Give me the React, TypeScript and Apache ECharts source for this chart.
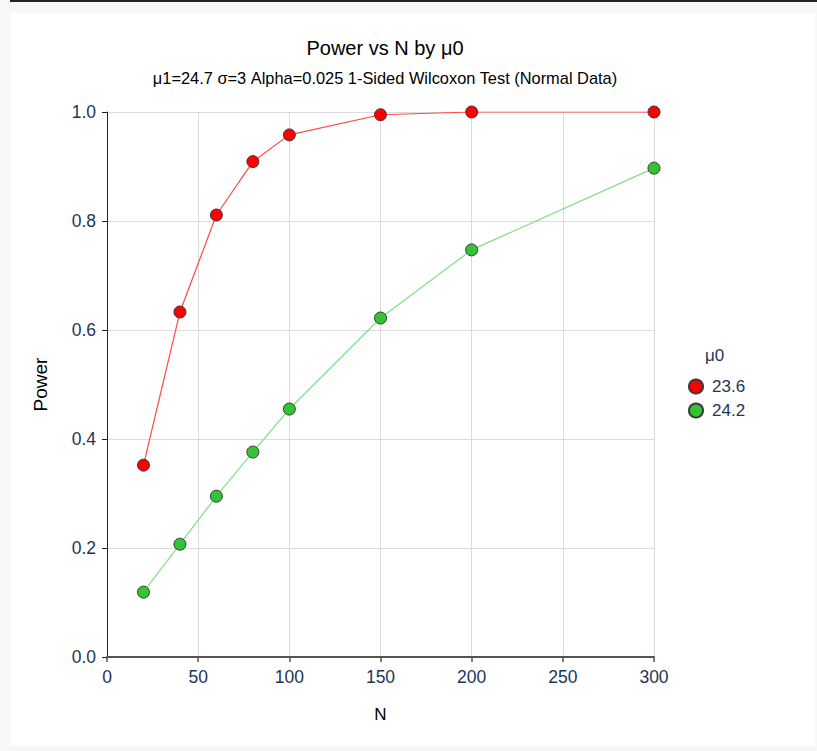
import React, { useEffect, useRef } from "react";
import * as echarts from "echarts";

const nValues = [20, 40, 60, 80, 100, 150, 200, 300];
const power236 = [0.352, 0.633, 0.811, 0.909, 0.958, 0.995, 1.0, 1.0];
const power242 = [0.119, 0.207, 0.295, 0.376, 0.455, 0.622, 0.747, 0.897];
const seriesNames = ["23.6", "24.2"];
const chartTitle = "Power vs N by μ0";
const chartSubtitle = "μ1=24.7 σ=3 Alpha=0.025 1-Sided Wilcoxon Test (Normal Data)";
const legendTitle = "μ0";

const FONT = "'Liberation Sans', Arial, sans-serif";

export default function App() {
  const ref = useRef<HTMLDivElement>(null);
  useEffect(() => {
    document.body.style.margin = "0";
    const chart = echarts.init(ref.current!, undefined, { renderer: "svg" });
    const mk = (name: string, vals: number[], fill: string, line: string) => ({
      name,
      type: "line",
      data: nValues.map((n, i) => [n, vals[i]]),
      symbol: "circle",
      symbolSize: 12,
      itemStyle: { color: fill, borderColor: "#3a3a3a", borderWidth: 1 },
      lineStyle: { color: line, width: 1.2 },
      emphasis: { disabled: true },
      z: 3,
    });
    chart.setOption({
      animation: false,
      textStyle: { fontFamily: FONT },
      title: [
        {
          text: chartTitle,
          left: 380,
          top: 33,
          textAlign: "center",
          textStyle: { fontSize: 20, fontWeight: "normal", color: "#000", fontFamily: FONT },
        },
        {
          text: chartSubtitle,
          left: 380,
          top: 65,
          textAlign: "center",
          textStyle: { fontSize: 16.4, fontWeight: "normal", color: "#000", fontFamily: FONT },
        },
      ],
      grid: { left: 107, top: 112, width: 547, height: 545, containLabel: false },
      xAxis: {
        type: "value",
        min: 0,
        max: 300,
        interval: 50,
        name: "N",
        nameLocation: "middle",
        nameGap: 49,
        nameTextStyle: { fontSize: 17, color: "#000", fontFamily: FONT },
        axisLine: { show: true, lineStyle: { color: "#555", width: 2 } },
        axisTick: { show: true, length: 5, lineStyle: { color: "#555", width: 1.5 } },
        axisLabel: { fontSize: 17.5, color: "#1f3557", margin: 11, fontFamily: FONT },
        splitLine: { show: true, lineStyle: { color: "#dcdcdc", width: 1 } },
      },
      yAxis: {
        type: "value",
        min: 0,
        max: 1,
        interval: 0.2,
        name: "Power",
        nameLocation: "middle",
        nameGap: 57,
        nameRotate: 90,
        nameTextStyle: { fontSize: 19, color: "#000", fontFamily: FONT },
        axisLine: { show: true, onZero: false, lineStyle: { color: "#222", width: 1 } },
        axisTick: { show: true, length: 5, lineStyle: { color: "#222", width: 1 } },
        axisLabel: {
          fontSize: 17.5,
          color: "#1f3557",
          margin: 11,
          fontFamily: FONT,
          formatter: (v: number) => v.toFixed(1),
        },
        splitLine: { show: true, lineStyle: { color: "#dcdcdc", width: 1 } },
      },
      legend: {
        orient: "vertical",
        left: 688,
        top: 378,
        padding: 0,
        itemGap: 7,
        itemWidth: 14,
        itemHeight: 14,
        icon: "circle",
        data: seriesNames,
        textStyle: { fontSize: 17, color: "#1f3557", fontFamily: FONT, padding: [0, 0, 0, 4] },
      },
      graphic: [
        {
          type: "text",
          left: 705,
          top: 347,
          style: { text: legendTitle, fontSize: 17, fill: "#1f3557", fontFamily: FONT },
        },
      ],
      series: [
        mk(seriesNames[0], power236, "#ff0000", "#ff4848"),
        mk(seriesNames[1], power242, "#33c433", "#80e080"),
      ],
    });
    return () => chart.dispose();
  }, []);
  return (
    <div style={{ position: "fixed", left: 0, top: 0, width: 817, height: 751, background: "#f7f7f7" }}>
      <div style={{ position: "absolute", left: 10, top: 0, width: 807, height: 2, background: "#222" }} />
      <div style={{ position: "absolute", left: 10, top: 13, width: 805, height: 733, background: "#fff" }} />
      <div ref={ref} style={{ position: "absolute", left: 0, top: 0, width: 817, height: 751 }} />
    </div>
  );
}
